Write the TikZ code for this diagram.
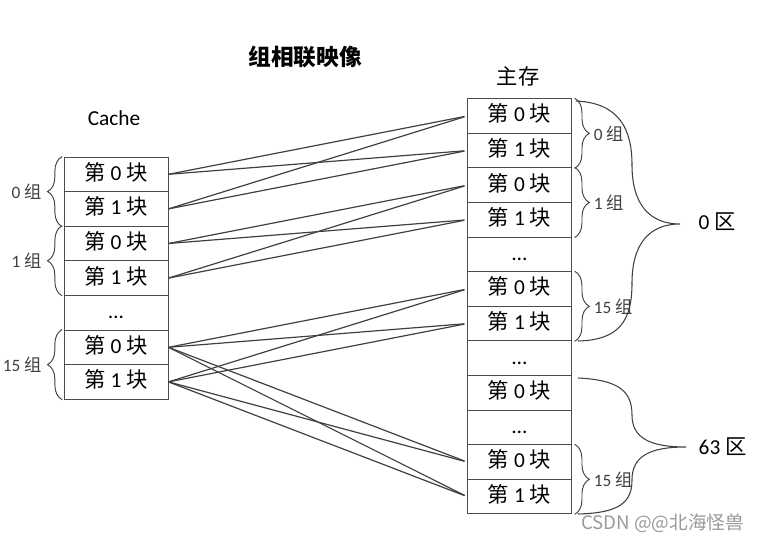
\documentclass[tikz,border=0pt]{standalone}
\usepackage{fontspec}
\setmainfont{Carlito}
\newfontfamily\cjk{Noto Sans CJK SC}
\usetikzlibrary{positioning, decorations.pathreplacing}

\newcommand\kuai[1]{{\cjk 第} #1 {\cjk 块}}
\newcommand\zu[1]{#1 {\cjk 组}}
\newcommand\qu[1]{#1 {\cjk 区}}

\tikzset{
	blk/.style = {draw = black!70, line width = 0.7pt, minimum width = 78pt, minimum height = 25.95pt, inner sep = 0pt, text height = 11.5pt, text depth = 2.5pt, font = \fontsize{16}{19}\selectfont},
	link/.style = {black!75, line width = 0.9pt},
	lgrp/.style = {decorate, decoration = {brace, amplitude = 11pt, raise = 1pt}, black!75, line width = 0.7pt},
	rgrp/.style = {decorate, decoration = {brace, amplitude = 11pt, raise = 2pt}, black!75, line width = 0.7pt},
	grplabel/.style = {inner sep = 0pt, font = \fontsize{13}{15}\selectfont},
	zone/.style = {black!75, line width = 0.8pt}
}

\begin{document}
\begin{tikzpicture}[x = 0.75pt, y = -0.75pt]

% Definitions

\def\H{34.6}		% Block height

\useasboundingbox (0, 0) rectangle (764, 541);

% Titles

\node [font = \cjk\bfseries\fontsize{17}{20}\selectfont] (title) at (305, 57) {组相联映像};
\node [font = \cjk\fontsize{16}{19}\selectfont] (mem) at (518, 76) {主存};
\node [font = \fontsize{16}{19}\selectfont] (cache) at (114, 118) {Cache};

% Cache blocks

\foreach \lbl [count = \i from 0] in {\kuai{0}, \kuai{1}, \kuai{0}, \kuai{1}, \dots, \kuai{0}, \kuai{1}}
	\node [blk] (c\i) at (116, {174.3 + \i * \H}) {\lbl};

% Main memory blocks

\foreach \lbl [count = \i from 0] in {\kuai{0}, \kuai{1}, \kuai{0}, \kuai{1}, \dots, \kuai{0}, \kuai{1}, \dots, \kuai{0}, \dots, \kuai{0}, \kuai{1}}
	\node [blk] (m\i) at (519.5, {116 + \i * \H}) {\lbl};

% Mapping lines

\foreach \c/\m in {c0/m0, c0/m1, c1/m0, c1/m1, c2/m2, c2/m3, c3/m2, c3/m3, c5/m5, c5/m6, c6/m5, c6/m6, c5/m10, c5/m11, c6/m10, c6/m11}
	\draw [link, shorten > = 2pt] (\c.east) -- (\m.west);

% Cache groups

\draw [lgrp] (c1.south west) -- (c0.north west) node [grplabel, midway, left = 16pt] {\zu{0}};
\draw [lgrp] (c3.south west) -- (c2.north west) node [grplabel, midway, left = 16pt] {\zu{1}};
\draw [lgrp] (c6.south west) -- (c5.north west) node [grplabel, midway, left = 16pt] {\zu{15}};

% Main memory groups

\draw [rgrp] (m0.north east) -- (m1.south east) node [grplabel, midway, right = 16pt] {\zu{0}};
\draw [rgrp] (m2.north east) -- (m3.south east) node [grplabel, midway, right = 16pt] {\zu{1}};
\draw [rgrp] (m5.north east) -- (m6.south east) node [grplabel, midway, right = 16pt] {\zu{15}};
\draw [rgrp] (m10.north east) -- (m11.south east) node [grplabel, midway, right = 16pt] {\zu{15}};

% Zones

\draw [zone] (576, 101) .. controls (620, 103) and (632, 130) .. (632, 165)
	.. controls (632, 205) and (650, 224) .. (680, 224)
	.. controls (650, 224) and (632, 243) .. (632, 283)
	.. controls (632, 320) and (620, 340) .. (578, 341);
\node [anchor = west, font = \fontsize{16}{19}\selectfont] (z0) at (694, 222) {\qu{0}};

\draw [zone] (578, 378) .. controls (620, 380) and (632, 392) .. (632, 415)
	.. controls (632, 438) and (650, 447) .. (686, 447)
	.. controls (650, 447) and (632, 456) .. (632, 480)
	.. controls (632, 502) and (620, 513) .. (578, 514);
\node [anchor = west, font = \fontsize{16}{19}\selectfont] (z63) at (694, 447) {\qu{63}};

% Watermark

\node [anchor = east, text = black!40, font = \cjk\fontsize{14}{17}\selectfont] (mark) at (749, 523) {CSDN @@北海怪兽};

\end{tikzpicture}
\end{document}
